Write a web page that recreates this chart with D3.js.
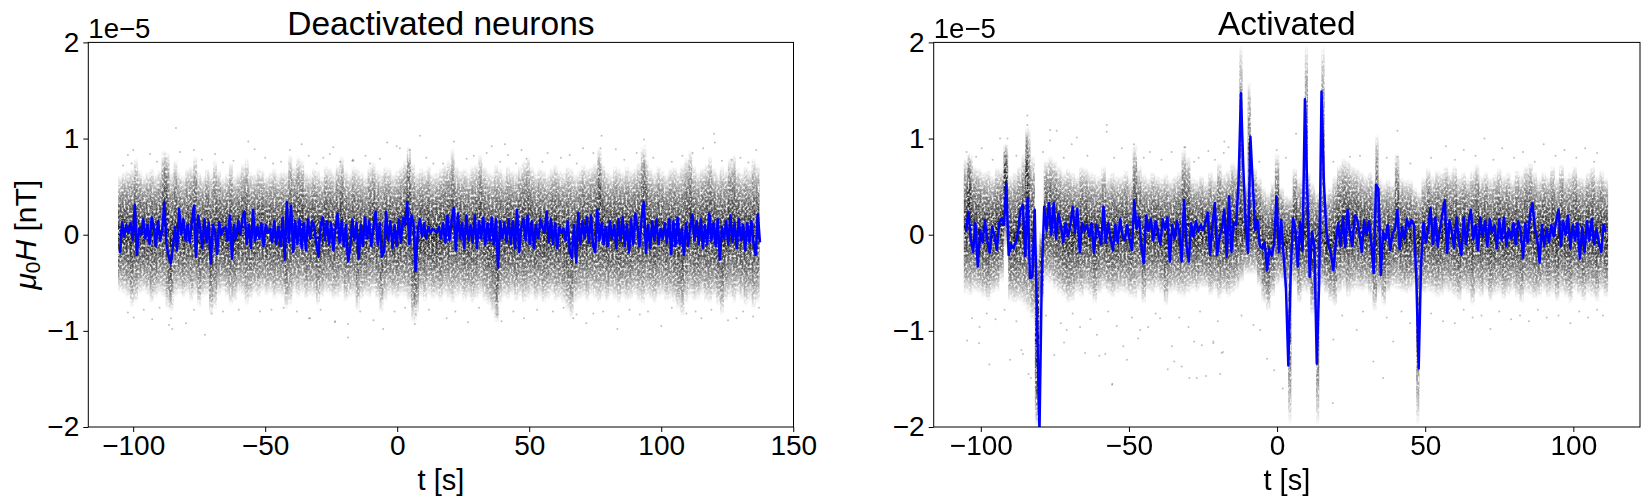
<!DOCTYPE html>
<html><head><meta charset="utf-8">
<script src="https://cdn.jsdelivr.net/npm/d3@7"></script>
<style>
html,body{margin:0;padding:0;background:#fff}
svg{display:block}
text{font-family:"Liberation Sans",Arial,sans-serif;fill:#000}
</style></head><body>
<svg id="c" width="1648" height="504"></svg>
<script>
const xTicksLeft=[-100,-50,0,50,100,150];
const xTicksRight=[-100,-50,0,50,100];
const yTicks=[-2,-1,0,1,2];
const sampleStart=-105, sampleStep=0.8, binStart=-105, binStep=1.5;

const blueLeft=[
-.19,.13,-.02,.10,.02,.12,-.06,.31,-.21,.06,.00,.16,-.04,.10,-.10,.18,.08,-.12,.14,-.06,.04,.34,-.10,-.22,-.30,
-.14,.08,-.16,.27,.00,.16,-.06,.10,-.08,.13,.30,-.23,.20,.06,-.14,.16,-.08,.12,-.30,.10,.04,-.20,.13,.00,.06,
.08,-.06,.20,-.25,.10,-.04,.14,.00,.18,.24,-.10,.10,-.14,.26,-.06,.08,-.04,.12,-.12,.10,.02,.06,-.08,.14,-.10,
.08,-.12,.18,-.26,.34,-.08,.30,-.18,.14,-.10,.16,-.14,.12,-.16,.16,-.04,.14,.08,-.10,-.23,.10,.18,-.06,.14,-.10,
.12,-.16,.06,.22,-.08,.14,-.12,.10,-.28,-.14,.16,-.06,.12,-.25,.10,-.12,.18,-.04,.14,-.12,.08,.24,-.10,.12,-.23,
-.18,.24,-.06,.14,-.14,.10,-.12,.16,-.08,.18,.10,.34,-.10,.20,.12,-.38,.06,.16,-.02,.12,-.04,.08,.02,.06,.04,
.02,.08,-.04,.12,-.08,.20,-.06,.14,.28,-.16,.22,-.04,.12,-.14,.20,-.06,.10,-.08,.20,-.14,.14,-.04,.18,-.10,.12,
-.06,.18,-.10,.16,-.34,.14,-.04,.12,-.08,.16,-.10,.14,-.14,.26,-.18,.08,.16,-.06,.20,-.10,.14,-.14,.10,-.04,.16,
.08,.02,.24,-.08,.16,-.10,.12,-.14,.08,.02,.06,-.06,.14,-.18,-.24,.10,-.29,.23,-.10,.14,-.04,.18,-.08,.20,-.12,
-.18,.26,-.06,.12,-.10,.08,-.12,.14,-.04,.10,-.14,.16,-.06,.18,-.12,.10,-.18,.16,-.10,.22,.06,-.12,.18,.34,-.19,
.10,-.14,.14,-.06,.16,-.10,.06,-.04,.12,-.08,.16,-.20,.14,-.12,.18,-.10,.06,-.21,.12,-.12,.08,.21,-.06,.14,-.10,
.16,-.14,.10,-.10,.22,-.06,.12,-.12,.16,-.26,.08,-.04,.14,-.10,.20,-.08,.12,-.14,.16,-.06,.10,-.16,.12,-.08,.14,
-.10,-.21,.21,-.08];

const blueRight=[
.03,.24,-.04,-.18,.12,-.33,.05,-.08,.15,-.06,-.19,.08,.00,-.16,.12,.17,.10,.53,-.21,-.10,-.14,-.08,.04,.26,.31,
-.22,.38,-.45,-.44,.26,-.90,-2.05,-.40,.29,.05,.33,.00,.33,-.04,.22,.10,-.08,.12,-.02,.10,.29,.02,.27,-.18,.12,
.04,.10,-.02,.12,-.19,.10,.02,-.10,.29,-.08,.12,-.04,-.16,.10,-.08,.16,.00,-.06,.10,-.04,-.16,.36,.06,.18,-.12,
-.30,.20,.04,.16,-.06,.14,.02,-.10,.16,.06,.18,-.28,.10,-.04,.14,.02,-.28,.36,-.10,-.28,.12,-.02,.14,.03,.10,
.05,.12,.23,-.21,.10,.33,-.21,-.02,.08,.26,-.23,.40,-.18,.13,.10,.55,1.47,.70,.10,-.19,1.02,.53,.05,.15,-.12,
-.14,-.08,-.37,-.15,-.22,-.10,.40,-.18,.15,-.22,-.55,-1.36,-.40,.17,.05,-.33,.13,-.17,1.41,.45,-.44,.03,-.12,-1.34,-.50,
1.49,.55,.05,-.12,-.20,-.37,-.08,.12,-.12,.18,-.13,.26,.02,-.12,.20,.16,.02,-.18,.15,.00,.14,-.08,-.40,.52,.48,
-.42,.03,-.05,.10,-.16,.02,.05,.26,-.15,.08,-.05,.16,.08,.15,.10,-.45,-1.39,-.30,.12,-.08,.05,.28,-.10,.18,-.12,
.05,.22,.36,-.19,.15,.02,-.14,.18,-.08,-.21,.18,-.10,.12,.26,-.05,.10,-.16,.18,-.02,.14,-.12,.16,.02,.10,-.14,
.16,-.06,.18,-.12,.06,-.04,.12,-.10,.14,.04,-.24,.12,-.08,.22,.33,.06,-.04,-.29,.10,-.12,.06,-.08,.10,-.02,.14,
.26,-.12,.14,.00,.20,-.14,.10,-.06,.12,-.25,.08,-.18,.14,-.06,.16,-.10,.06,-.08,-.18,.10,.03];

const cloudTopLeft=[
.62,.66,.68,.70,.80,.68,.62,.66,.70,.64,.68,.88,.86,.66,.78,.66,.62,.70,.72,.82,
.66,.62,.70,.66,.78,.68,.60,.64,.76,.62,.66,.74,.80,.66,.64,.70,.68,.62,.66,.70,
.64,.68,.66,.84,.72,.82,.78,.66,.64,.70,.68,.62,.72,.70,.66,.74,.82,.68,.64,.72,
.70,.66,.62,.72,.76,.68,.66,.72,.70,.64,.68,.72,.78,.92,.76,.66,.70,.68,.72,.64,
.66,.70,.74,.78,.90,.72,.68,.70,.66,.72,.74,.84,.72,.68,.66,.74,.70,.64,.72,.68,
.66,.72,.78,.82,.72,.66,.70,.68,.64,.70,.74,.68,.66,.72,.70,.64,.68,.74,.70,.72,
.76,.90,.74,.68,.64,.72,.70,.66,.72,.68,.70,.76,.92,.78,.70,.66,.72,.68,.64,.70,
.72,.68,.74,.80,.88,.72,.66,.70,.74,.82,.70,.66,.72,.68,.80,.84,.70,.66,.72,.68,.80,.74];
const cloudBottomLeft=[
-.60,-.62,-.66,-.76,-.72,-.62,-.60,-.64,-.72,-.66,-.62,-.66,-.78,-.80,-.66,-.62,-.66,-.62,-.70,-.64,
-.76,-.66,-.64,-.84,-.78,-.64,-.60,-.66,-.74,-.70,-.62,-.64,-.74,-.68,-.62,-.66,-.60,-.64,-.62,-.68,
-.64,-.66,-.78,-.74,-.62,-.66,-.62,-.68,-.64,-.66,-.74,-.66,-.62,-.64,-.68,-.66,-.62,-.70,-.66,-.64,
-.80,-.68,-.64,-.66,-.62,-.68,-.82,-.70,-.64,-.66,-.68,-.64,-.66,-.72,-.92,-.82,-.66,-.70,-.64,-.68,
-.66,-.70,-.64,-.68,-.72,-.66,-.64,-.70,-.66,-.72,-.68,-.64,-.70,-.74,-.82,-.92,-.72,-.66,-.68,-.64,
-.70,-.66,-.72,-.68,-.64,-.70,-.66,-.72,-.68,-.64,-.70,-.68,-.72,-.80,-.88,-.72,-.68,-.66,-.70,-.64,
-.68,-.72,-.66,-.70,-.64,-.68,-.72,-.66,-.70,-.68,-.64,-.70,-.74,-.66,-.68,-.72,-.66,-.64,-.70,-.68,
-.72,-.78,-.86,-.72,-.66,-.70,-.68,-.64,-.70,-.72,-.66,-.74,-.84,-.70,-.66,-.72,-.64,-.68,-.74,-.70,-.78,-.72];

const cloudTopRight=[
.80,.85,.72,.70,.66,.68,.62,.70,.70,.95,.62,.66,.72,.85,1.12,.83,-.05,.05,.78,.82,
.78,.72,.66,.70,.66,.62,.72,.70,.66,.64,.62,.72,.60,.66,.62,.62,.68,.60,.95,.72,
.64,.60,.66,.62,.60,.64,.58,.62,.66,.90,.82,.60,.58,.62,.56,.66,.60,.76,.64,.68,
.76,.72,.66,.55,.62,.70,.60,.50,.45,.55,.85,.50,.42,.40,.70,.60,.62,.66,.55,.45,
.55,.45,.50,.62,.74,.80,.78,.72,.70,.66,.62,.66,.58,.60,.55,.58,.54,.85,.60,.58,
.58,.50,.45,.60,.70,.62,.68,.66,.72,.66,.72,.62,.66,.60,.68,.74,.62,.66,.60,.64,
.70,.62,.66,.58,.68,.64,.72,.76,.66,.60,.66,.62,.72,.60,.74,.62,.66,.72,.62,.60,
.66,.72,.62,.68,.60];
const cloudBottomRight=[
-.62,-.64,-.60,-.62,-.66,-.70,-.62,-.60,-.50,-.15,-.70,-.72,-.70,-.75,-.82,-.90,-2.0,-.70,-.50,-.52,
-.58,-.62,-.66,-.72,-.70,-.62,-.66,-.60,-.64,-.72,-.62,-.58,-.62,-.66,-.62,-.60,-.62,-.66,-.68,-.60,
-.72,-.60,-.62,-.58,-.62,-.74,-.62,-.60,-.64,-.66,-.62,-.58,-.60,-.56,-.56,-.64,-.60,-.68,-.62,-.66,
-.62,-.58,-.50,-.42,-.42,-.42,-.55,-.72,-.80,-.65,-.55,-.50,-.60,-.45,-.55,-.72,-.60,-.62,-.85,-.55,
-.55,-.62,-.70,-.75,-.62,-.58,-.66,-.60,-.58,-.60,-.58,-.64,-.80,-.62,-.75,-.62,-.56,-.58,-.60,-.62,
-.60,-.55,-.60,-.62,-.60,-.62,-.66,-.64,-.60,-.62,-.66,-.70,-.60,-.62,-.74,-.62,-.66,-.60,-.70,-.64,
-.62,-.68,-.64,-.60,-.66,-.72,-.62,-.64,-.68,-.66,-.60,-.66,-.62,-.70,-.62,-.66,-.72,-.60,-.64,-.70,
-.62,-.66,-.70,-.60,-.66];

const streaksRight=[[-104,.85,.0],[-91.8,.95,.1],[-84.5,1.12,.1],[-80.8,-.2,-2.0],[-12.2,1.98,.0],[-9.4,1.6,.1],
[4.3,-.1,-1.98],[9.9,1.98,.0],[13.7,-.1,-1.98],[15.5,1.98,.0],[33.7,1.05,-.1],[47.5,-.1,-1.98]];
const streaksLeft=[[-87.7,.88,.0],[-86,.0,-.8],[4.2,.92,.0],[7,.0,-.92],[38,.0,-.92],[93.8,.95,.0],[76.8,.9,.0]];

const outliersLeft=[[-83.8,1.11],[-56.4,.97],[-36.2,.94],[-100,.88],[-102,.83],[-93.6,.84],[-82.3,.86],[-54,.89],[-40.6,.88],[-24.2,.91],[-3.8,.96],[-69,.84],[-77,.88],
[8.6,1.03],[21.5,.97],[-.2,.92],[4.8,.88],[-25.5,.84],[-17,.77],[-6.6,.79],[33.9,.85],[40.8,.94],[47.1,.88],[35.8,.92],[42,.83],[49,.79],
[-18.6,-1.07],[7,-.83],[-5.3,-.98],[6.7,-.93],[-33,-.87],[-23.5,-.9],[-9,-.89],[26.8,-.91],[39.5,-.9],[48,-.87],[18.7,-.87],[38,-.83],[-18.6,-.93],
[120,1.05],[120.3,.96],[77.4,1.03],[93.5,.99],[77,.9],[70.4,.9],[82.8,.89],[57,.85],[74.3,.85],[90.7,.85],[111.9,.85],[115.9,.9],[126.6,.78],[136,.88],[65.3,.83],
[83.4,-.98],[100,-.95],[71.6,-.92],[66.7,-.87],[67.9,-.83],[74.3,-.82],[83.8,-.85],[91.9,-.83],[115.2,-.87],[125.3,-.89],[128.5,-.87],[134.8,-.85],[109.5,-.82],
[-72.8,-1.04],[-85.2,-.98],[-86.4,-.94],[-92.8,-.88],[-80,-.92],[-102,-.81],[-99.8,-.86],[-85.7,-.87],[-70.3,-.82],[-33.4,-.87],[-23.6,-.91],[-47.6,-.78],[-66,-.8],[-96,-.78],
[-16.7,.78],[-10.3,.74],[1,.9],[17.4,.74],[26.3,.79],[39,.76],[-21.7,.76],[-30.5,.74],[13.7,.74],[45,.74],[-103.8,.72],[-100.6,.74],[-62,.77],[-47,.74],[-16.6,.77],[-91,.76],[-74,.78],[-66,.75],[-50,.8],[-44,.76],
[55,.76],[62,.8],[68,.74],[86,.78],[97,.8],[104,.76],[108,.82],[123,.77],[130,.8],[133,.75],[11,.8],[29,.82],[-12,.82],[-28,.8],[-33.5,.82],
[-29,-.78],[-14,-.8],[-1,-.8],[3,-.76],[12,-.78],[22,-.8],[31,-.76],[44,-.8],[53,-.78],[59,-.8],[63,-.76],[78,-.8],[88,-.78],[95,-.8],[104,-.76],[113,-.8],[119,-.78],[131,-.8],[137,-.76],[-90,-.76],[-77,-.78],[-60,-.78],[-52,-.8],[-43,-.76],[-38,-.8]];

const outliersRight=[[-84.3,1.24],[-84.3,1.14],[-57.5,1.14],[-57.5,1.07],[-76.6,1.09],[-74.4,1.08],[-76.6,.98],[-67.6,1.01],[-93.5,1.0],[-91,1.0],[-69.3,.94],[-99.7,.9],[-104.8,.86],[-101.6,.81],[-48.3,.94],[-52.4,.9],[-31.3,.91],[-17.8,.97],[-16.4,.91],[-23.2,.87],[-35.6,.86],[-42.9,.86],
[-97.1,-1.35],[-104.6,-1.10],[-100.6,-1.13],[-103,-.87],[-100.4,-.96],[-90.1,-1.3],[-83.9,-1.45],[-83.1,-1.49],[-85.8,-1.24],[-86.3,-1.2],[-75.2,-1.25],[-71.9,-1.12],[-64.8,-1.23],[-60,-1.26],[-58,-1.24],[-55.6,-1.55],[-50.7,-1.3],[-51.9,-1.16],[-46.9,-1.08],[-36.9,-1.4],[-34.7,-1.32],[-32.2,-1.37],[-29.6,-1.49],[-27.1,-1.49],[-24,-1.47],[-19.2,-1.45],[-25.4,-1.15],[-35.5,-1.16],[-21.5,-1.13],[-18.7,-1.23],[-71,-.99],[-66.5,-.96],[-60.8,-1.04],[-54.1,-.95],[-46.2,-.99],[-43.5,-.96],[-39.5,-.87],[-29.9,-.96],
[6.4,1.05],[40.6,1.08],[-31,.91],[-26.5,.8],[-18,.85],[-.1,.88],[24.6,.81],[40.6,.81],[-28,-1.11],[-21.5,-1.11],[-18.3,-1.22],[-3.4,-1.29],[-1,-1.41],[18.8,-1.75],[35.8,-1.49],[32.5,-1.32],[19,-1.09],[39.2,-1.11],[26.9,-.99],[44.9,-.92],[-5.7,-.99],[-55.7,-1.56],[1.9,-1.6],
[57,.92],[63,.88],[70,1.0],[76,.9],[83,.86],[90,.94],[97,.88],[104,.9],[108,.85],[60,-.92],[66,-.86],[72,-.98],[79,-.88],[85,-.9],[91,-.86],[99,-.92],[105,-.86],[110,-.84],
[-98,-.82],[-95,-.88],[-92,-.78],[-88,-.9],[-78,-.84],[-73,-.92],[-69,-.82],[-63,-.88],[-57,-.8],[-49,-.86],[-41,-.82],[-33,-.86],[-26,-.8],[-20,-.9],[-12,-.84],[-8,-.94],[22,-.84],[29,-.8],[37,-.86],[42,-.8],[52,-.82],[56,-.9],[63,-.78],[69,-.84],[75,-.8],[82,-.84],[88,-.78],[95,-.84],[102,-.8],[108,-.78],
[-96,.78],[-88,.82],[-79,.86],[-72,.8],[-64,.82],[-55,.8],[-45,.8],[-39,.78],[-28,.76],[-21,.78],[-6,.76],[3,.8],[19,.76],[28,.82],[37,.8],[45,.74],[52,.8],[60,.78],[67,.82],[73,.78],[80,.8],[87,.76],[94,.82],[101,.8],[107,.76]];

const svg=d3.select("#c");
const defs=svg.append("defs");
const grad=defs.append("linearGradient").attr("id","colGrad").attr("x1",0).attr("x2",0).attr("y1",0).attr("y2",1);
[[0,0],[.05,.14],[.14,.38],[.28,.62],[.5,.9],[.72,.62],[.86,.38],[.95,.14],[1,0]].forEach(([o,a])=>
  grad.append("stop").attr("offset",o).attr("stop-color","#000").attr("stop-opacity",a));
const f=defs.append("filter").attr("id","grain").attr("x",0).attr("y",0).attr("width",1).attr("height",1)
  .attr("filterUnits","objectBoundingBox").attr("color-interpolation-filters","sRGB");
f.append("feTurbulence").attr("type","fractalNoise").attr("baseFrequency","0.5 0.38").attr("numOctaves",2).attr("seed",4).attr("result","n");
f.append("feColorMatrix").attr("in","n").attr("type","matrix")
  .attr("values","0 0 0 0 0  0 0 0 0 0  0 0 0 0 0  2.6 0 0 0 -0.55").attr("result","m");
f.append("feComposite").attr("in","SourceGraphic").attr("in2","m").attr("operator","in");

const y0=42.4,y1=427;
const panels=[
 {id:"L",title:"Deactivated neurons",px:[88.3,793.5],dom:[-117,150.1],ticks:xTicksLeft,blue:blueLeft,top:cloudTopLeft,bot:cloudBottomLeft,streaks:streaksLeft,streakAlpha:.35,out:outliersLeft},
 {id:"R",title:"Activated",px:[933.7,1640],dom:[-115.9,122.5],ticks:xTicksRight,blue:blueRight,top:cloudTopRight,bot:cloudBottomRight,streaks:streaksRight,streakAlpha:.75,out:outliersRight}
];
const yScale=d3.scaleLinear().domain([-2,2]).range([y1,y0]);

panels.forEach(p=>{
  const x=d3.scaleLinear().domain(p.dom).range(p.px);
  defs.append("clipPath").attr("id","clip"+p.id).append("rect")
    .attr("x",p.px[0]).attr("y",y0).attr("width",p.px[1]-p.px[0]).attr("height",y1-y0);
  const g=svg.append("g").attr("clip-path",`url(#clip${p.id})`);
  const cloud=g.append("g").attr("filter","url(#grain)");
  const bw=x(binStep)-x(0);
  cloud.selectAll("rect.col").data(p.top.map((t,i)=>({t:binStart+i*binStep,top:t,bot:p.bot[i]})))
    .join("rect").attr("class","col")
    .attr("x",d=>x(d.t)-bw/2).attr("width",bw)
    .attr("y",d=>yScale(d.top)).attr("height",d=>yScale(d.bot)-yScale(d.top))
    .attr("fill","url(#colGrad)");
  cloud.selectAll("rect.st").data(p.streaks).join("rect").attr("class","st")
    .attr("x",d=>x(d[0])-1.6).attr("width",3.2)
    .attr("y",d=>yScale(d[1])).attr("height",d=>yScale(d[2])-yScale(d[1]))
    .attr("fill","url(#colGrad)").attr("opacity",p.streakAlpha);
  g.selectAll("circle").data(p.out).join("circle")
    .attr("cx",d=>x(d[0])).attr("cy",d=>yScale(d[1])).attr("r",1)
    .attr("fill","#000").attr("fill-opacity",.25);
  const line=d3.line().x((d,i)=>x(sampleStart+i*sampleStep)).y(d=>yScale(d));
  g.append("path").attr("d",line(p.blue)).attr("fill","none").attr("stroke","#0000ff")
    .attr("stroke-width",2.5).attr("stroke-linejoin","round");

  const ax=svg.append("g").attr("transform",`translate(0,${y1})`)
    .call(d3.axisBottom(x).tickValues(p.ticks).tickSize(5).tickPadding(3).tickFormat(d3.format("d")));
  const ay=svg.append("g").attr("transform",`translate(${p.px[0]},0)`)
    .call(d3.axisLeft(yScale).tickValues(yTicks).tickSize(5).tickPadding(4).tickFormat(d3.format("d")));
  [ax,ay].forEach(a=>{a.select(".domain").remove();
    a.selectAll("line").attr("stroke","#000").attr("stroke-width",1);
    a.selectAll("text").style("font-size","28px").attr("font-family",null);});
  svg.append("rect").attr("x",p.px[0]).attr("y",y0).attr("width",p.px[1]-p.px[0]).attr("height",y1-y0)
    .attr("fill","none").attr("stroke","#000").attr("stroke-width",1);
  const cx=(p.px[0]+p.px[1])/2;
  svg.append("text").attr("x",cx).attr("y",35).attr("text-anchor","middle").style("font-size","33.5px").text(p.title);
  svg.append("text").attr("x",cx).attr("y",490).attr("text-anchor","middle").style("font-size","29px").text("t [s]");
  svg.append("text").attr("x",p.px[0]).attr("y",37.5).style("font-size","27.6px").text("1e\u22125");
});
const yl=svg.append("text").attr("transform","translate(36,234.7) rotate(-90)").attr("text-anchor","middle").style("font-size","30px");
yl.append("tspan").style("font-style","italic").text("\u03bc");
yl.append("tspan").attr("dy",4).style("font-size","21px").text("0");
yl.append("tspan").attr("dy",-4).style("font-style","italic").text("H");
yl.append("tspan").text(" [nT]");
</script></body></html>
